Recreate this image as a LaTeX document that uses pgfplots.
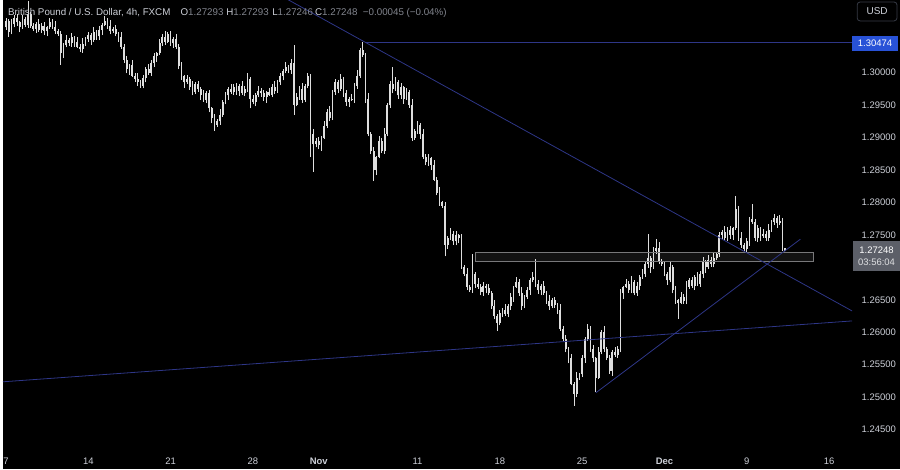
\documentclass[border=0pt]{standalone}
\usepackage{pgfplots}
\pgfplotsset{compat=1.18}
\usepackage{pgfplotstable}
\usepackage{fontspec}
\setmainfont{Liberation Sans}

\definecolor{bg}{RGB}{0,0,0}
\definecolor{candle}{RGB}{222,222,222}
\definecolor{trend}{RGB}{46,54,135}
\definecolor{scaletxt}{RGB}{205,208,216}
\definecolor{zoneline}{RGB}{120,120,122}
\definecolor{tagblue}{RGB}{40,82,215}
\definecolor{taggray}{RGB}{92,95,104}
\definecolor{muted}{RGB}{130,133,142}
\definecolor{usdline}{RGB}{54,58,69}

% GBPUSD 4h candles, i = bar number (30 bars a week)
\pgfplotstableread{
i o h l c
0 1.3070 1.3085 1.3066 1.3080
1 1.3080 1.3083 1.3055 1.3062
2 1.3062 1.3083 1.3059 1.3075
3 1.3075 1.3089 1.3070 1.3085
4 1.3085 1.3091 1.3072 1.3078
5 1.3078 1.3080 1.3062 1.3070
6 1.3070 1.3089 1.3068 1.3082
7 1.3082 1.3086 1.3070 1.3074
8 1.3074 1.3110 1.3069 1.3090
9 1.3090 1.3093 1.3069 1.3072
10 1.3072 1.3077 1.3064 1.3068
11 1.3068 1.3078 1.3061 1.3075
12 1.3075 1.3083 1.3063 1.3066
13 1.3066 1.3076 1.3061 1.3072
14 1.3072 1.3078 1.3058 1.3064
15 1.3064 1.3072 1.3056 1.3070
16 1.3070 1.3085 1.3068 1.3078
17 1.3078 1.3082 1.3067 1.3071
18 1.3071 1.3080 1.3060 1.3065
19 1.3065 1.3068 1.3057 1.3060
20 1.3060 1.3065 1.3012 1.3030
21 1.3030 1.3045 1.3023 1.3042
22 1.3042 1.3058 1.3039 1.3050
23 1.3050 1.3054 1.3041 1.3046
24 1.3046 1.3061 1.3040 1.3055
25 1.3055 1.3057 1.3040 1.3048
26 1.3048 1.3055 1.3038 1.3040
27 1.3040 1.3044 1.3032 1.3036
28 1.3036 1.3053 1.3031 1.3044
29 1.3044 1.3055 1.3041 1.3052
30 1.3052 1.3063 1.3048 1.3058
31 1.3058 1.3061 1.3043 1.3050
32 1.3050 1.3070 1.3047 1.3062
33 1.3062 1.3066 1.3051 1.3056
34 1.3056 1.3072 1.3050 1.3066
35 1.3066 1.3076 1.3058 1.3074
36 1.3074 1.3087 1.3072 1.3080
37 1.3080 1.3084 1.3068 1.3072
38 1.3072 1.3081 1.3059 1.3064
39 1.3064 1.3071 1.3061 1.3068
40 1.3068 1.3073 1.3056 1.3060
41 1.3060 1.3063 1.3048 1.3055
42 1.3055 1.3063 1.3037 1.3040
43 1.3040 1.3044 1.3015 1.3020
44 1.3020 1.3026 1.2999 1.3005
45 1.3005 1.3014 1.2997 1.3012
46 1.3012 1.3019 1.2993 1.2995
47 1.2995 1.2999 1.2986 1.2990
48 1.2990 1.2999 1.2980 1.2985
49 1.2985 1.2988 1.2977 1.2980
50 1.2980 1.2997 1.2976 1.2992
51 1.2992 1.3008 1.2985 1.3005
52 1.3005 1.3013 1.2997 1.3000
53 1.3000 1.3019 1.2995 1.3015
54 1.3015 1.3031 1.3009 1.3025
55 1.3025 1.3032 1.3017 1.3030
56 1.3030 1.3052 1.3028 1.3045
57 1.3045 1.3059 1.3041 1.3055
58 1.3055 1.3064 1.3043 1.3048
59 1.3048 1.3063 1.3045 1.3060
60 1.3060 1.3065 1.3041 1.3045
61 1.3045 1.3055 1.3038 1.3052
62 1.3052 1.3060 1.3037 1.3040
63 1.3040 1.3044 1.3005 1.3010
64 1.3010 1.3016 1.2989 1.2995
65 1.2995 1.2997 1.2977 1.2985
66 1.2985 1.2997 1.2983 1.2990
67 1.2990 1.2994 1.2974 1.2978
68 1.2978 1.2987 1.2965 1.2970
69 1.2970 1.2985 1.2967 1.2982
70 1.2982 1.2987 1.2971 1.2975
71 1.2975 1.2978 1.2958 1.2965
72 1.2965 1.2973 1.2955 1.2958
73 1.2958 1.2972 1.2953 1.2968
74 1.2968 1.2974 1.2939 1.2945
75 1.2945 1.2947 1.2922 1.2930
76 1.2930 1.2937 1.2910 1.2920
77 1.2920 1.2929 1.2916 1.2925
78 1.2925 1.2944 1.2920 1.2935
79 1.2935 1.2958 1.2932 1.2955
80 1.2955 1.2970 1.2951 1.2965
81 1.2965 1.2978 1.2958 1.2975
82 1.2975 1.2983 1.2967 1.2970
83 1.2970 1.2982 1.2965 1.2978
84 1.2978 1.2984 1.2966 1.2972
85 1.2972 1.2982 1.2964 1.2980
86 1.2980 1.2987 1.2966 1.2968
87 1.2968 1.2979 1.2964 1.2975
88 1.2975 1.2999 1.2970 1.2990
89 1.2990 1.2993 1.2945 1.2960
90 1.2960 1.2965 1.2951 1.2955
91 1.2955 1.2968 1.2948 1.2965
92 1.2965 1.2980 1.2962 1.2972
93 1.2972 1.2976 1.2963 1.2968
94 1.2968 1.2974 1.2956 1.2962
95 1.2962 1.2972 1.2954 1.2970
96 1.2970 1.2977 1.2964 1.2966
97 1.2966 1.2982 1.2962 1.2978
98 1.2978 1.2987 1.2967 1.2972
99 1.2972 1.2988 1.2969 1.2985
100 1.2985 1.3000 1.2981 1.2995
101 1.2995 1.3005 1.2988 1.3002
102 1.3002 1.3016 1.2999 1.3008
103 1.3008 1.3012 1.2999 1.3004
104 1.3004 1.3021 1.2998 1.3015
105 1.3015 1.3043 1.2935 1.2950
106 1.2950 1.2969 1.2948 1.2962
107 1.2962 1.2979 1.2958 1.2975
108 1.2975 1.2984 1.2953 1.2958
109 1.2958 1.2983 1.2955 1.2980
110 1.2980 1.3000 1.2976 1.2995
111 1.2995 1.2998 1.2870 1.2905
112 1.2905 1.2913 1.2847 1.2890
113 1.2890 1.2899 1.2885 1.2895
114 1.2895 1.2901 1.2882 1.2888
115 1.2888 1.2902 1.2880 1.2900
116 1.2900 1.2925 1.2898 1.2918
117 1.2918 1.2944 1.2914 1.2940
118 1.2940 1.2949 1.2925 1.2930
119 1.2930 1.2973 1.2927 1.2970
120 1.2970 1.2990 1.2966 1.2985
121 1.2985 1.2988 1.2968 1.2975
122 1.2975 1.2998 1.2972 1.2990
123 1.2990 1.2994 1.2963 1.2968
124 1.2968 1.2974 1.2949 1.2955
125 1.2955 1.2962 1.2947 1.2960
126 1.2960 1.2967 1.2956 1.2958
127 1.2958 1.2984 1.2954 1.2980
128 1.2980 1.3004 1.2975 1.2995
129 1.2995 1.3038 1.2992 1.3035
130 1.3035 1.30474 1.3024 1.3028
131 1.3028 1.3031 1.2953 1.2960
132 1.2960 1.2968 1.2902 1.2905
133 1.2905 1.2909 1.2875 1.2880
134 1.2880 1.2886 1.2833 1.2850
135 1.2850 1.2872 1.2842 1.2870
136 1.2870 1.2902 1.2868 1.2895
137 1.2895 1.2899 1.2876 1.2880
138 1.2880 1.2914 1.2875 1.2905
139 1.2905 1.2953 1.2902 1.2950
140 1.2950 1.2987 1.2946 1.2982
141 1.2982 1.3008 1.2968 1.2975
142 1.2975 1.2993 1.2972 1.2985
143 1.2985 1.2989 1.2960 1.2965
144 1.2965 1.2984 1.2959 1.2978
145 1.2978 1.2980 1.2952 1.2960
146 1.2960 1.2977 1.2958 1.2970
147 1.2970 1.2974 1.2946 1.2950
148 1.2950 1.2959 1.2895 1.2900
149 1.2900 1.2913 1.2897 1.2910
150 1.2910 1.2925 1.2906 1.2920
151 1.2920 1.2923 1.2898 1.2905
152 1.2905 1.2913 1.2867 1.2870
153 1.2870 1.2874 1.2857 1.2862
154 1.2862 1.2874 1.2856 1.2868
155 1.2868 1.2870 1.2850 1.2858
156 1.2858 1.2865 1.2833 1.2835
157 1.2835 1.2839 1.2811 1.2815
158 1.2815 1.2824 1.2795 1.2800
159 1.2800 1.2803 1.2792 1.2795
160 1.2795 1.2800 1.2717 1.2735
161 1.2735 1.2748 1.2728 1.2745
162 1.2745 1.2760 1.2742 1.2752
163 1.2752 1.2756 1.2735 1.2740
164 1.2740 1.2756 1.2734 1.2750
165 1.2750 1.2752 1.2737 1.2745
166 1.2745 1.2752 1.2698 1.2700
167 1.2700 1.2704 1.2686 1.2690
168 1.2690 1.2699 1.2665 1.2670
169 1.2670 1.2673 1.2662 1.2665
170 1.2665 1.2720 1.2661 1.2690
171 1.2690 1.2693 1.2668 1.2675
172 1.2675 1.2683 1.2667 1.2670
173 1.2670 1.2674 1.2657 1.2662
174 1.2662 1.2678 1.2656 1.2672
175 1.2672 1.2674 1.2660 1.2668
176 1.2668 1.2675 1.2658 1.2660
177 1.2660 1.2664 1.2636 1.2640
178 1.2640 1.2649 1.2620 1.2625
179 1.2625 1.2628 1.2602 1.2615
180 1.2615 1.2635 1.2611 1.2630
181 1.2630 1.2638 1.2623 1.2635
182 1.2635 1.2643 1.2625 1.2628
183 1.2628 1.2644 1.2623 1.2640
184 1.2640 1.2661 1.2634 1.2655
185 1.2655 1.2672 1.2647 1.2670
186 1.2670 1.2685 1.2668 1.2678
187 1.2678 1.2682 1.2656 1.2660
188 1.2660 1.2669 1.2635 1.2640
189 1.2640 1.2658 1.2637 1.2655
190 1.2655 1.2670 1.2651 1.2665
191 1.2665 1.2683 1.2658 1.2680
192 1.2680 1.2693 1.2677 1.2685
193 1.2685 1.2713 1.2670 1.2675
194 1.2675 1.2681 1.2659 1.2665
195 1.2665 1.2674 1.2657 1.2672
196 1.2672 1.2679 1.2658 1.2660
197 1.2660 1.2664 1.2644 1.2648
198 1.2648 1.2657 1.2635 1.2640
199 1.2640 1.2653 1.2637 1.2650
200 1.2650 1.2655 1.2638 1.2642
201 1.2642 1.2645 1.2628 1.2635
202 1.2635 1.2643 1.2602 1.2605
203 1.2605 1.2609 1.2585 1.2590
204 1.2590 1.2596 1.2569 1.2575
205 1.2575 1.2577 1.2552 1.2560
206 1.2560 1.2567 1.2518 1.2520
207 1.2520 1.2524 1.2487 1.2505
208 1.2505 1.2539 1.2500 1.2530
209 1.2530 1.2538 1.2527 1.2535
210 1.2535 1.2565 1.2531 1.2560
211 1.2560 1.2593 1.2553 1.2590
212 1.2590 1.2613 1.2587 1.2605
213 1.2605 1.2609 1.2570 1.2575
214 1.2575 1.2581 1.2554 1.2560
215 1.2560 1.2562 1.2508 1.2530
216 1.2530 1.2577 1.2528 1.2570
217 1.2570 1.2604 1.2566 1.2600
218 1.2600 1.2609 1.2570 1.2575
219 1.2575 1.2578 1.2557 1.2560
220 1.2560 1.2565 1.2536 1.2540
221 1.2540 1.2573 1.2533 1.2570
222 1.2570 1.2578 1.2562 1.2565
223 1.2565 1.2579 1.2560 1.2575
224 1.2575 1.2666 1.2569 1.2660
225 1.2660 1.2672 1.2652 1.2670
226 1.2670 1.2682 1.2668 1.2675
227 1.2675 1.2679 1.2661 1.2665
228 1.2665 1.2687 1.2660 1.2678
229 1.2678 1.2681 1.2657 1.2660
230 1.2660 1.2677 1.2656 1.2672
231 1.2672 1.2688 1.2665 1.2685
232 1.2685 1.2698 1.2682 1.2690
233 1.2690 1.2709 1.2685 1.2705
234 1.2705 1.2751 1.2699 1.2715
235 1.2715 1.2717 1.2692 1.2700
236 1.2700 1.2732 1.2698 1.2725
237 1.2725 1.2743 1.2721 1.2730
238 1.2730 1.2739 1.2705 1.2710
239 1.2710 1.2713 1.2702 1.2705
240 1.2705 1.2710 1.2686 1.2690
241 1.2690 1.2693 1.2673 1.2680
242 1.2680 1.2708 1.2677 1.2700
243 1.2700 1.2704 1.2660 1.2665
244 1.2665 1.2671 1.2644 1.2650
245 1.2650 1.2652 1.2621 1.2645
246 1.2645 1.2662 1.2643 1.2655
247 1.2655 1.2659 1.2644 1.2648
248 1.2648 1.2679 1.2643 1.2670
249 1.2670 1.2683 1.2667 1.2680
250 1.2680 1.2685 1.2668 1.2672
251 1.2672 1.2688 1.2665 1.2685
252 1.2685 1.2693 1.2672 1.2675
253 1.2675 1.2694 1.2670 1.2690
254 1.2690 1.2716 1.2684 1.2710
255 1.2710 1.2712 1.2692 1.2700
256 1.2700 1.2719 1.2698 1.2712
257 1.2712 1.2716 1.2701 1.2705
258 1.2705 1.2724 1.2700 1.2715
259 1.2715 1.2723 1.2712 1.2720
260 1.2720 1.2755 1.2716 1.2750
261 1.2750 1.2758 1.2743 1.2755
262 1.2755 1.2763 1.2742 1.2745
263 1.2745 1.2762 1.2740 1.2758
264 1.2758 1.2764 1.2744 1.2750
265 1.2750 1.2762 1.2742 1.2760
266 1.2760 1.2810 1.2758 1.2790
267 1.2790 1.2794 1.2741 1.2745
268 1.2745 1.2754 1.2730 1.2735
269 1.2735 1.2738 1.2725 1.2728
270 1.2728 1.2745 1.2724 1.2740
271 1.2740 1.2778 1.2733 1.2775
272 1.2775 1.2797 1.2767 1.2770
273 1.2770 1.2774 1.2740 1.2745
274 1.2745 1.2766 1.2739 1.2760
275 1.2760 1.2762 1.2740 1.2748
276 1.2748 1.2759 1.2746 1.2752
277 1.2752 1.2756 1.2741 1.2745
278 1.2745 1.2767 1.2740 1.2758
279 1.2758 1.2773 1.2755 1.2770
280 1.2770 1.2782 1.2766 1.2776
281 1.2776 1.2779 1.2761 1.2768
282 1.2768 1.2780 1.2765 1.2772
283 1.2772 1.2776 1.2725 1.2730
284 1.27293 1.27293 1.27246 1.27248
}\candles

\begin{document}
\begin{tikzpicture}
\fill[bg] (0,0) rectangle (900pt,471pt);
\begin{axis}[
  at={(0pt,24pt)}, anchor=south west,
  scale only axis, width=852pt, height=447pt,
  xmin=-1.09, xmax=308.4, ymin=1.24255, ymax=1.3112,
  axis line style={draw=none}, tick style={draw=none},
  clip mode=individual,
  xtick={0,30,60,90,114,150,180,210,240,270,300},
  xticklabels={7,14,21,28,\textbf{Nov},11,18,25,\textbf{Dec},9,16},
  xticklabel style={anchor=center, yshift=-16pt, font=\fontsize{9.5}{10}\selectfont, text=scaletxt},
  % 1.27000 sits under the last-price tag, so it is left out
  ytick={1.245,1.25,1.255,1.26,1.265,1.275,1.28,1.285,1.29,1.295,1.30},
  yticklabel pos=right,
  scaled y ticks=false,
  yticklabel style={anchor=west, xshift=6pt, font=\fontsize{9.5}{10}\selectfont, text=scaletxt,
    /pgf/number format/.cd, fixed, fixed zerofill, precision=5, assume math mode=true},
]
% wicks
\addplot[draw=none, mark=none, forget plot,
  error bars/.cd, y dir=plus, y explicit, error mark=none,
  error bar style={draw=candle, solid, line width=0.8pt}]
  table[x=i, y=l, y error expr=\thisrow{h}-\thisrow{l}] {\candles};
% bodies
\addplot[draw=none, mark=none, forget plot,
  error bars/.cd, y dir=plus, y explicit, error mark=none,
  error bar style={draw=candle, solid, line width=1.8pt}]
  table[x=i, y expr={min(\thisrow{o},\thisrow{c})},
        y error expr={max(abs(\thisrow{c}-\thisrow{o}),0.00012)}] {\candles};

% drawings
\addplot[draw=zoneline, fill=white, fill opacity=0.07, line width=0.7pt]
  coordinates {(171.1,1.27096) (294.2,1.27096) (294.2,1.27227) (171.1,1.27227)} -- cycle;
\addplot[trend, line width=0.8pt] coordinates {(-1.09,1.25237) (308.4,1.26175)};
\addplot[trend, line width=0.8pt] coordinates {(101.3,1.3116) (308.4,1.26328)};
\addplot[trend, line width=0.8pt] coordinates {(215.0,1.25068) (289.5,1.27434)};
\addplot[trend, line width=0.8pt] coordinates {(130.77,1.30474) (308.4,1.30474)};
\end{axis}

% price scale tags
\node[fill=tagblue, text=white, minimum width=46pt, minimum height=15pt, inner sep=0pt,
  font=\fontsize{9.5}{10}\selectfont] at (875pt,427.5pt) {1.30474};
\node[fill=taggray, minimum width=47pt, minimum height=30pt, inner sep=0pt, align=center,
  font=\fontsize{9.5}{12.5}\selectfont] at (876.5pt,214pt)
  {\textcolor{white}{1.27248}\\\textcolor{white!80!taggray}{03:56:04}};
\node[draw=usdline, line width=0.8pt, rounded corners=3pt, minimum width=40pt, minimum height=19pt,
  text=scaletxt, font=\fontsize{10}{12}\selectfont] at (877pt,459.5pt) {USD};

% legend line
\begin{scope}[font=\fontsize{9.8}{12}\selectfont, text=scaletxt]
\node[anchor=base west, inner sep=0pt] at (5pt,455pt) {British Pound / U.S. Dollar, 4h, FXCM};
\node[anchor=base west, inner sep=0pt] at (178pt,455pt) {O\textcolor{muted}{1.27293}};
\node[anchor=base west, inner sep=0pt] at (224pt,455pt) {H\textcolor{muted}{1.27293}};
\node[anchor=base west, inner sep=0pt] at (270pt,455pt) {L\textcolor{muted}{1.27246}};
\node[anchor=base west, inner sep=0pt] at (313pt,455pt) {C\textcolor{muted}{1.27248}};
\node[anchor=base west, inner sep=0pt] at (361pt,455pt) {\textcolor{muted}{−0.00045 (−0.04\%)}};
\end{scope}
\end{tikzpicture}
\end{document}
